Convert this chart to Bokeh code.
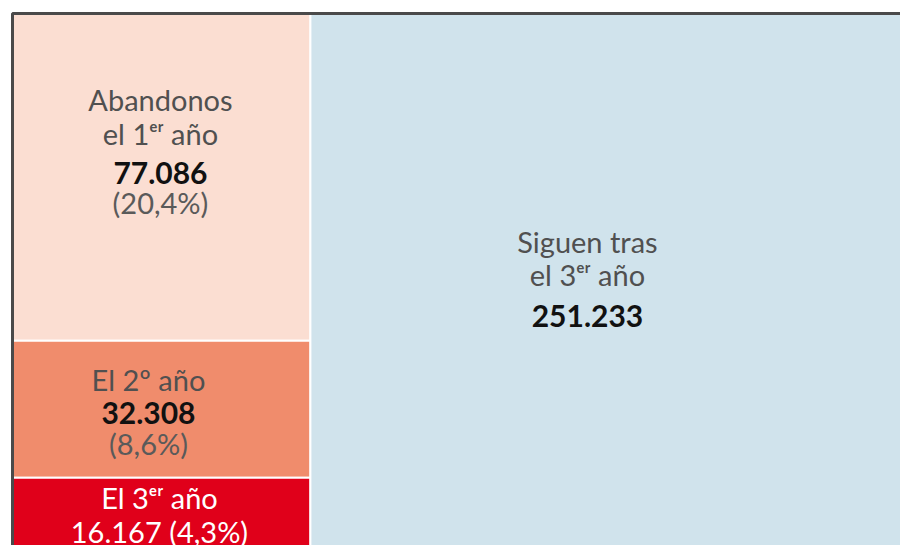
from bokeh.plotting import figure
from bokeh.models import ColumnDataSource, Range1d
from bokeh.embed import file_html
from bokeh.resources import INLINE
from bokeh.core.properties import value

# ---- data ----
categories = ["Abandonos el 1ᵉʳ año", "El 2º año", "El 3ᵉʳ año", "Siguen tras el 3ᵉʳ año"]
values = [77086, 32308, 16167, 251233]
value_labels = ["77.086", "32.308", "16.167", "251.233"]
percent_labels = ["(20,4%)", "(8,6%)", "(4,3%)", ""]
colors = ["#FBDED2", "#F08C6C", "#E0001A", "#D0E3EC"]

FONT = "Lato"

total = sum(values)
left_vals = values[:3]
left_total = sum(left_vals)
wl = left_total / total

# treemap layout: left column stacked (top to bottom), right column single cell
x0s, x1s, y0s, y1s = [], [], [], []
top = 1.0
for v in left_vals:
    h = v / left_total
    x0s.append(0.0); x1s.append(wl); y1s.append(top); y0s.append(top - h)
    top -= h
x0s.append(wl); x1s.append(1.0); y0s.append(0.0); y1s.append(1.0)

cells = ColumnDataSource(dict(left=x0s, right=x1s, bottom=y0s, top=y1s, color=colors))

p = figure(width=900, height=545, output_backend="svg", toolbar_location=None,
           x_range=Range1d(-12 / 894, 888 / 894),
           y_range=Range1d(1 - 532 / 533, 1 + 13 / 533),
           min_border=0)
p.axis.visible = False
p.grid.visible = False
p.outline_line_color = None
p.background_fill_color = "white"

p.quad(left="left", right="right", bottom="bottom", top="top", fill_color="color",
       line_color="white", line_width=2, source=cells)
# outer frame
p.line(x=[1.0, 0.0, 0.0], y=[1.0, 1.0, 0.0], line_color="#4a4a4a", line_width=3)

cx = [(a + b) / 2 for a, b in zip(x0s, x1s)]
cy = [(a + b) / 2 for a, b in zip(y0s, y1s)]

SHIFT = -11

def txt(i, text, dx, dy, color, size, bold=False):
    p.text(x=[cx[i]], y=[cy[i]], text=[text], x_offset=dx, y_offset=dy + SHIFT,
           text_align="center", text_baseline="alphabetic",
           text_color=color, text_font=value(FONT), text_font_size=size,
           text_font_style="bold" if bold else "normal")

LBL = "#505050"
PCT = "#5a5a5a"
SZ = "29px"
NSZ = "30px"

# cell 0: Abandonos el 1er año
txt(0, "Abandonos", -1, -67, LBL, SZ)
txt(0, "el 1ᵉʳ año", -1, -33, LBL, SZ)
txt(0, value_labels[0], -1, 7, "#111111", NSZ, True)
txt(0, percent_labels[0], -1, 36, PCT, SZ)

# cell 1: El 2º año
txt(1, "El 2º año", -13, -19, LBL, SZ)
txt(1, value_labels[1], -13, 15, "#111111", NSZ, True)
txt(1, percent_labels[1], -13, 45, PCT, SZ)

# cell 2: El 3er año
txt(2, "El 3ᵉʳ año", -2, -4, "white", SZ)
txt(2, value_labels[2] + " " + percent_labels[2], -2, 30, "white", SZ)

# cell 3: Siguen tras el 3er año
txt(3, "Siguen tras", -21, -28, LBL, SZ)
txt(3, "el 3ᵉʳ año", -21, 5, LBL, SZ)
txt(3, value_labels[3], -21, 47, "#111111", NSZ, True)

open("out.html", "w").write(file_html(p, INLINE))
